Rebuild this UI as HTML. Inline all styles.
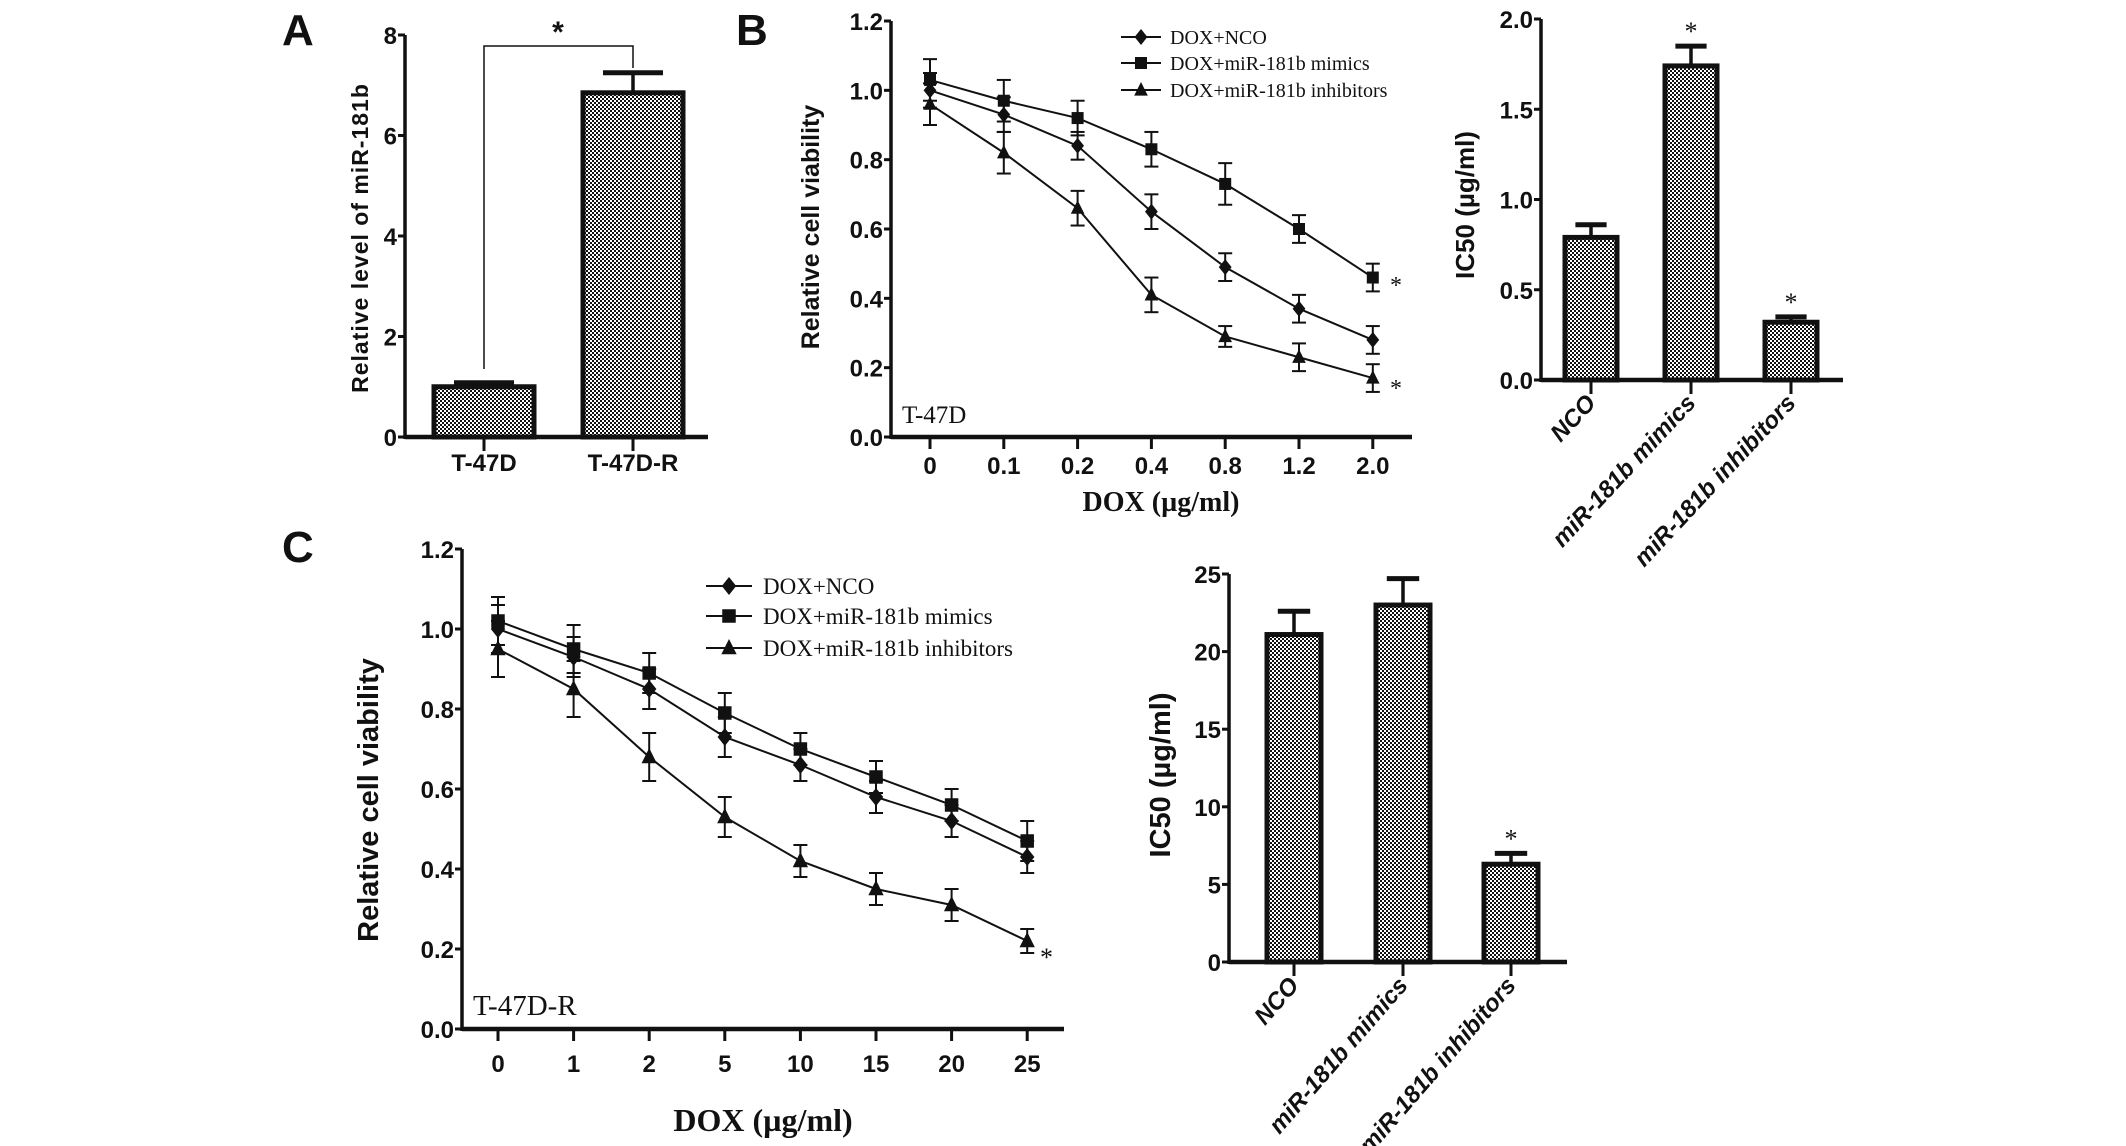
<!DOCTYPE html>
<html><head><meta charset="utf-8"><style>
html,body{margin:0;padding:0;background:#fff}
svg{display:block}
.tk{font-family:"Liberation Sans Narrow","Liberation Sans",sans-serif;font-weight:bold;font-size:24px;fill:#111}
.ser{font-family:"Liberation Serif",serif;fill:#111}
.ttl{font-family:"Liberation Sans",sans-serif;font-weight:bold;fill:#111}
</style></head><body>
<svg id="fig" width="2126" height="1146" viewBox="0 0 2126 1146" xmlns="http://www.w3.org/2000/svg">
<defs>
<pattern id="chk" width="4" height="4" patternUnits="userSpaceOnUse">
<rect width="4" height="4" fill="#fff"/><rect width="2" height="2" fill="#111"/><rect x="2" y="2" width="2" height="2" fill="#111"/>
</pattern>
</defs>
<g id="root"></g>
</svg>
<script>
// Panel A data
const aCats=["T-47D","T-47D-R"];
const aVals=[1.0,6.85];
const aErr=[0.08,0.4];
const aTicks=[0,2,4,6,8];
// Panel B line data
const bX=["0","0.1","0.2","0.4","0.8","1.2","2.0"];
const bNCO=[1.0,0.93,0.84,0.65,0.49,0.37,0.28];
const bMim=[1.03,0.97,0.92,0.83,0.73,0.60,0.46];
const bInh=[0.96,0.82,0.66,0.41,0.29,0.23,0.17];
const bErrNCO=[0.05,0.05,0.04,0.05,0.04,0.04,0.04];
const bErrMim=[0.06,0.06,0.05,0.05,0.06,0.04,0.04];
const bErrInh=[0.06,0.06,0.05,0.05,0.03,0.04,0.04];
const vTicks=[0,0.2,0.4,0.6,0.8,1.0,1.2];
// Panel B IC50
const icCats=["NCO","miR-181b mimics","miR-181b inhibitors"];
const icB=[0.79,1.74,0.32];
const icBErr=[0.07,0.11,0.03];
const icBTicks=[0,0.5,1.0,1.5,2.0];
// Panel C line data
const cX=["0","1","2","5","10","15","20","25"];
const cNCO=[1.0,0.93,0.85,0.73,0.66,0.58,0.52,0.43];
const cMim=[1.02,0.95,0.89,0.79,0.70,0.63,0.56,0.47];
const cInh=[0.95,0.85,0.68,0.53,0.42,0.35,0.31,0.22];
const cErrNCO=[0.06,0.05,0.05,0.05,0.04,0.04,0.04,0.04];
const cErrMim=[0.06,0.06,0.05,0.05,0.04,0.04,0.04,0.05];
const cErrInh=[0.07,0.07,0.06,0.05,0.04,0.04,0.04,0.03];
// Panel C IC50
const icC=[21.1,23.0,6.3];
const icCErr=[1.5,1.7,0.7];
const icCTicks=[0,5,10,15,20,25];

const NS="http://www.w3.org/2000/svg";
const root=document.getElementById('root');
function el(tag,attrs,parent,text){const e=document.createElementNS(NS,tag);for(const k in attrs)e.setAttribute(k,attrs[k]);if(text!==undefined)e.textContent=text;(parent||root).appendChild(e);return e;}
function line(x1,y1,x2,y2,w,p){return el('line',{x1,y1,x2,y2,stroke:'#111','stroke-width':w},p);}

function yAxis(g,x,y0,y1,ticks,vmax,fmt,fs){
  const sy=v=>y0-(v/vmax)*(y0-y1);
  line(x,y0+2,x,y1,3.5,g);
  ticks.forEach(t=>{line(x-7,sy(t),x,sy(t),3,g);
    const tx=el('text',{x:x-8,y:sy(t)+9,'text-anchor':'end',class:'tk','font-size':fs||24},g,fmt(t));
    
    });
  return sy;
}

function barChart(name,g,o){
  const sy=yAxis(g,o.ax,o.y0,o.y1,o.ticks,o.vmax,o.fmt);
  line(o.ax,o.y0,o.axEnd,o.y0,4.5,g);
  o.vals.forEach((v,i)=>{
    const cx=o.cx[i];
    line(cx,o.y0,cx,o.y0+14,3,g);
    const top=sy(v), et=sy(v+o.err[i]);
    line(cx,top,cx,et,3.5,g);
    line(cx-o.bw*0.3,et,cx+o.bw*0.3,et,5,g);
    const r=el('rect',{x:cx-o.bw/2,y:top,width:o.bw,height:o.y0-top,fill:'url(#chk)',stroke:'#111','stroke-width':5},g);
    
    
    if(o.star&&o.star[i]){const s=el('text',{x:cx,y:et-6,'text-anchor':'middle',class:'ser','font-size':'26'},g,'*');
      
      }
    let lbl;
    if(o.rot){lbl=el('text',{x:cx+6,y:o.y0+24,'text-anchor':'end',class:'tk','font-size':o.rfs,'font-style':'italic',transform:`rotate(${o.rot} ${cx+6} ${o.y0+24})`},g,o.cats[i]);}
    else{lbl=el('text',{x:cx,y:o.y0+34,'text-anchor':'middle',class:'tk','font-size':'20'},g,o.cats[i]);}
    
    
  });
  return sy;
}

function marker(g,type,x,y,s){
  if(type==='d') return el('polygon',{points:`${x},${y-s} ${x+s*0.8},${y} ${x},${y+s} ${x-s*0.8},${y}`,fill:'#111'},g);
  if(type==='s') return el('rect',{x:x-s*0.75,y:y-s*0.75,width:s*1.5,height:s*1.5,fill:'#111'},g);
  return el('polygon',{points:`${x},${y-s} ${x+s*0.85},${y+s*0.7} ${x-s*0.85},${y+s*0.7}`,fill:'#111'},g);
}

function lineChart(name,g,o){
  const sy=yAxis(g,o.ax,o.y0,o.y1,vTicks,1.2,t=>t.toFixed(1),o.yfs);
  line(o.ax,o.y0,o.axEnd,o.y0,4.5,g);
  const sx=i=>o.x0+i*o.dx;
  o.xl.forEach((l,i)=>{line(sx(i),o.y0,sx(i),o.y0+12,3,g);
    const t=el('text',{x:sx(i),y:o.tickY,'text-anchor':'middle',class:'tk','font-size':o.tfs},g,l);
    
    });
  const series=[[o.nco,o.eNco,'d','nco'],[o.mim,o.eMim,'s','mimics'],[o.inh,o.eInh,'t','inhibitors']];
  series.forEach(([vals,errs,m,sn])=>{
    const pl=el('polyline',{points:vals.map((v,i)=>sx(i)+','+sy(v)).join(' '),fill:'none',stroke:'#111','stroke-width':2},g);
    
    
    vals.forEach((v,i)=>{
      const x=sx(i),a=sy(v+errs[i]),b=sy(v-errs[i]);
      line(x,a,x,b,2,g);line(x-7,a,x+7,a,2,g);line(x-7,b,x+7,b,2,g);
      const mk=marker(g,m,x,sy(v),o.ms);
      
      
    });
  });
  return {sy,sx};
}

// ---------- Panel A
const gA=el('g',{});
el('text',{x:282,y:45,class:'ttl','font-size':'44'},gA,'A');
barChart('panel-a',gA,{ax:405,y0:437,y1:35,vmax:8,ticks:aTicks,fmt:t=>String(t),axEnd:708,vals:aVals,err:aErr,cx:[484,633],bw:100,cats:aCats});
el('polyline',{points:`484,369 484,46 633,46 633,68`,fill:'none',stroke:'#111','stroke-width':1.5},gA);
el('text',{x:558,y:42,'text-anchor':'middle',class:'ttl','font-size':'30','font-weight':'normal'},gA,'*');
el('text',{x:0,y:0,class:'ttl','font-size':'23',transform:'translate(368,238) rotate(-90)','text-anchor':'middle','letter-spacing':'1'},gA,'Relative level of miR-181b');

// ---------- Panel B line
const gB=el('g',{});
el('text',{x:736,y:45,class:'ttl','font-size':'44'},gB,'B');
lineChart('panel-b',gB,{ax:891,y0:437,y1:21,axEnd:1412,x0:930,dx:73.8,xl:bX,tickY:474,tfs:'25',yfs:25,nco:bNCO,mim:bMim,inh:bInh,eNco:bErrNCO,eMim:bErrMim,eInh:bErrInh,ms:8});
el('text',{x:0,y:0,class:'ttl','font-size':'25',transform:'translate(819,227) rotate(-90)','text-anchor':'middle'},gB,'Relative cell viability');
el('text',{x:1161,y:511,'text-anchor':'middle',class:'ser','font-size':'28','font-weight':'bold'},gB,'DOX (\u00b5g/ml)');
el('text',{x:902,y:423,class:'ser','font-size':'25'},gB,'T-47D');
[['d','DOX+NCO',37],['s','DOX+miR-181b mimics',63],['t','DOX+miR-181b inhibitors',90]].forEach(([m,t,y])=>{
  line(1121,y,1161,y,2,gB);marker(gB,m,1141,y,8);
  const tx=el('text',{x:1170,y:y+7,class:'ser','font-size':'20'},gB,t);
  });
el('text',{x:1390,y:293,class:'ser','font-size':'24'},gB,'*');
el('text',{x:1390,y:396,class:'ser','font-size':'24'},gB,'*');

// ---------- Panel B IC50
const gBI=el('g',{});
barChart('panel-b-ic50',gBI,{ax:1541,y0:380,y1:19,vmax:2,ticks:icBTicks,fmt:t=>t.toFixed(1),axEnd:1843,vals:icB,err:icBErr,cx:[1591,1691,1791],bw:52,cats:icCats,rot:-47,rfs:17,star:[0,1,1]});
el('text',{x:0,y:0,class:'ttl','font-size':'26',transform:'translate(1474,205) rotate(-90)','text-anchor':'middle'},gBI,'IC50 (\u00b5g/ml)');

// ---------- Panel C line
const gC=el('g',{});
el('text',{x:282,y:562,class:'ttl','font-size':'44'},gC,'C');
lineChart('panel-c',gC,{ax:462,y0:1029,y1:549,axEnd:1064,x0:498,dx:75.6,xl:cX,tickY:1072,tfs:'28',yfs:26,nco:cNCO,mim:cMim,inh:cInh,eNco:cErrNCO,eMim:cErrMim,eInh:cErrInh,ms:9});
el('text',{x:0,y:0,class:'ttl','font-size':'29',transform:'translate(378,800) rotate(-90)','text-anchor':'middle'},gC,'Relative cell viability');
el('text',{x:763,y:1131,'text-anchor':'middle',class:'ser','font-size':'32','font-weight':'bold'},gC,'DOX (\u00b5g/ml)');
el('text',{x:473,y:1015,class:'ser','font-size':'29'},gC,'T-47D-R');
[['d','DOX+NCO',586],['s','DOX+miR-181b mimics',616],['t','DOX+miR-181b inhibitors',648]].forEach(([m,t,y])=>{
  line(706,y,752,y,2,gC);marker(gC,m,729,y,9);
  const tx=el('text',{x:763,y:y+8,class:'ser','font-size':'23'},gC,t);
  });
el('text',{x:1040,y:966,class:'ser','font-size':'26'},gC,'*');

// ---------- Panel C IC50
const gCI=el('g',{});
barChart('panel-c-ic50',gCI,{ax:1229,y0:962,y1:574,vmax:25,ticks:icCTicks,fmt:t=>String(t),axEnd:1567,vals:icC,err:icCErr,cx:[1294,1403,1511],bw:54,cats:icCats,rot:-49,rfs:18,star:[0,0,1]});
el('text',{x:0,y:0,class:'ttl','font-size':'29',transform:'translate(1170,775) rotate(-90)','text-anchor':'middle'},gCI,'IC50 (\u00b5g/ml)');
</script>
</body></html>
